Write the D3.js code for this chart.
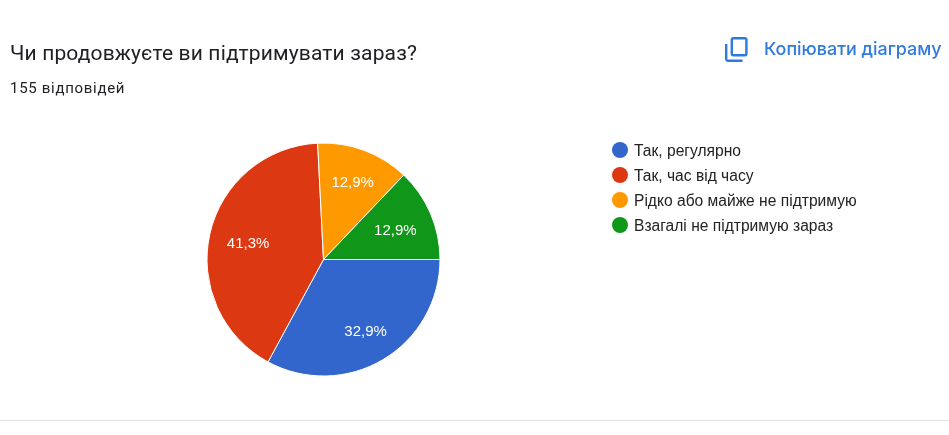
<!DOCTYPE html>
<html><head><meta charset="utf-8">
<script src="https://cdn.jsdelivr.net/npm/d3@7/dist/d3.min.js"></script>
<style>html,body{margin:0;padding:0;background:#fff;overflow:hidden}svg{display:block;filter:blur(0.35px)}</style>
</head><body><svg id="c" width="949" height="435"></svg>
<script>
const titleText = "Чи продовжуєте ви підтримувати зараз?";
const subtitleText = "155 відповідей";
const copyText = "Копіювати діаграму";
const categories = ["Так, регулярно","Так, час від часу","Рідко або майже не підтримую","Взагалі не підтримую зараз"];
const values = [32.9,41.3,12.9,12.9];
const labels = ["32,9%","41,3%","12,9%","12,9%"];
const colors = ["#3366cc","#dc3912","#ff9900","#109618"];

const svg = d3.select("#c");
svg.append("text").attr("x",10).attr("y",60).attr("font-family","Roboto").attr("font-size",21).attr("letter-spacing",0.15).attr("fill","#202124").text(titleText);
svg.append("text").attr("x",10).attr("y",93).attr("font-family","Roboto").attr("font-size",15).attr("letter-spacing",0.7).attr("fill","#202124").text(subtitleText);

// copy button
const blue="#2f7ade";
const icon=svg.append("g").attr("transform","translate(725,37)").attr("fill","none").attr("stroke",blue).attr("stroke-width",2.4);
icon.append("rect").attr("x",6.8).attr("y",1.2).attr("width",14.6).attr("height",17).attr("rx",1.5);
icon.append("path").attr("d","M1.2,7V22a1.8,1.8 0 0 0 1.8,1.8H17.5");
svg.append("text").attr("x",764).attr("y",55).attr("font-family","Inter").attr("font-weight",500).attr("font-size",17.9).attr("fill",blue).text(copyText);

// pie
const cx=323.5, cy=259.5, r=116.5;
const labelRadius=[82.3,77.3,83.9,78.2];
const pie=d3.pie().sort(null).startAngle(Math.PI/2).endAngle(Math.PI*2.5);
const arcs=pie(values);
const arc=d3.arc().innerRadius(0).outerRadius(r);
const g=svg.append("g").attr("transform",`translate(${cx},${cy})`);
g.selectAll("path").data(arcs).join("path").attr("d",arc).attr("fill",(d,i)=>colors[i]).attr("stroke","#fff").attr("stroke-width",1);
g.selectAll("text").data(arcs).join("text")
 .attr("transform",(d,i)=>`translate(${d3.arc().innerRadius(labelRadius[i]).outerRadius(labelRadius[i]).centroid(d)})`)
 .attr("text-anchor","middle").attr("dy","0.4em")
 .attr("font-family","Liberation Sans").attr("font-size",15).attr("fill","#fff")
 .text((d,i)=>labels[i]);

// legend
const ly=d3.scalePoint().domain(categories).range([150,225]);
const lg=svg.append("g").selectAll("g").data(categories).join("g").attr("transform",d=>`translate(0,${ly(d)})`);
lg.append("circle").attr("cx",620).attr("r",8).attr("fill",(d,i)=>colors[i]);
lg.append("text").attr("x",634).attr("dy","0.36em").attr("font-family","Liberation Sans").attr("font-size",15.6).attr("fill","#222").text(d=>d);

// bottom rule
svg.append("line").attr("x1",0).attr("x2",949).attr("y1",420.5).attr("y2",420.5).attr("stroke","#e3e3e3");
</script></body></html>
